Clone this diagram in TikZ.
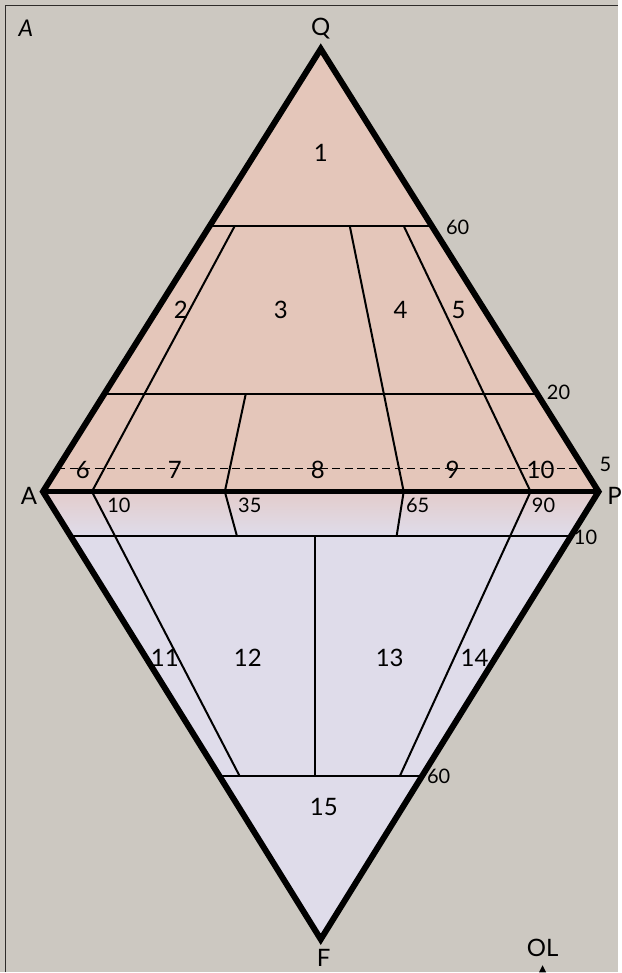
\documentclass[tikz,border=0pt]{standalone}
\usepackage{fontspec}
\setmainfont{Lato}
\usetikzlibrary{calc,positioning}
\definecolor{bgcol}{HTML}{CCC8C1}
\definecolor{framecol}{HTML}{2E2C2A}
\definecolor{qcol}{HTML}{E4C6BA}
\definecolor{fcol}{HTML}{DFDCEA}
\definecolor{bandcol}{HTML}{E3CCCB}

\begin{document}
\begin{tikzpicture}[x=1pt, y=-1pt,
  every node/.style={font=\fontsize{24}{26}\selectfont},
  field/.style={font=\fontsize{24}{26}\selectfont, inner sep=1pt},
  tick/.style={font=\fontsize{20}{22}\selectfont, inner sep=1pt},
  apex/.style={font=\fontsize{24}{26}\selectfont, inner sep=0pt},
  rim/.style={line width=6pt, line join=miter, line cap=butt},
  split/.style={line width=2pt},
  five/.style={line width=1.4pt, dash pattern=on 8pt off 4.5pt},
]
% background and frame
\fill[bgcol] (0,0) rectangle (618,973);
\draw[framecol, line width=1.5pt] (5.5,973) -- (5.5,5.5) -- (618,5.5);

% corners of the diamond
\coordinate (Q) at (321,49);
\coordinate (A) at (43,492);
\coordinate (P) at (599,492);
\coordinate (F) at (321,940);

% points on the edges
\foreach \f/\n in {0.6005/q60, 0.2212/q20, 0.0519/q5} {
  \coordinate (\n l) at ($(A)!\f!(Q)$);
  \coordinate (\n r) at ($(P)!\f!(Q)$);
}
\foreach \f/\n in {0.0982/f10, 0.6362/f60} {
  \coordinate (\n l) at ($(A)!\f!(F)$);
  \coordinate (\n r) at ($(P)!\f!(F)$);
}

% fills
\fill[qcol] (Q) -- (P) -- (A) -- cycle;
\shade[top color=bandcol, bottom color=fcol] (A) -- (P) -- (f10r) -- (f10l) -- cycle;
\fill[fcol] (f10l) -- (f10r) -- (F) -- cycle;

% field boundaries
\draw[split] (q60l) -- (q60r);
\draw[split] (q20l) -- (q20r);
\draw[split] (f10l) -- (f10r);
\draw[split] (f60l) -- (f60r);
\draw[five] (q5l) -- (q5r);

\draw[split] (235,226) -- (92,492) -- (240,777);
\draw[split] (350,226) -- (404,492) -- (397,536);
\draw[split] (404,226) -- (531,492) -- (400,777);
\draw[split] (246,394) -- (225,492) -- (237,536);
\draw[split] (315,536) -- (315,777);

% outline
\draw[rim] (Q) -- (P) -- (F) -- (A) -- cycle;
\draw[line width=4.5pt] (A) -- (P);

% field numbers
\foreach \x/\y/\t in {321/153/1, 181/310/2, 281/310/3, 401/310/4, 459/310/5,
  83/470/6, 175/470/7, 318/470/8, 453/470/9, 541/470/10,
  165/658/11, 248/658/12, 390/658/13, 475/658/14, 324/808/15} {
  \node[field] (r\t) at (\x,\y) {\t};
}

% percentages
\foreach \x/\y/\t/\n in {458/228/60/t1, 559/393/20/t2, 606/465/5/t3,
  119/506/10/t4, 250/506/35/t5, 418/506/65/t6, 544/506/90/t7,
  586/538/10/t8, 439/777/60/t9} {
  \node[tick] (\n) at (\x,\y) {\t};
}

% apices
\node[apex] (lq) at (321,29) {Q};
\node[apex] (la) at (29,496) {A};
\node[apex] (lp) at (615,496) {P};
\node[apex] (lf) at (324,959) {F};
\node[apex, font=\fontsize{23}{25}\selectfont\itshape] (ltitle) at (26,28) {A};
\node[apex] (lol) at (543,949) {OL};
\fill (539.5,973) -- (543,966) -- (546.5,973) -- cycle;
\end{tikzpicture}
\end{document}
